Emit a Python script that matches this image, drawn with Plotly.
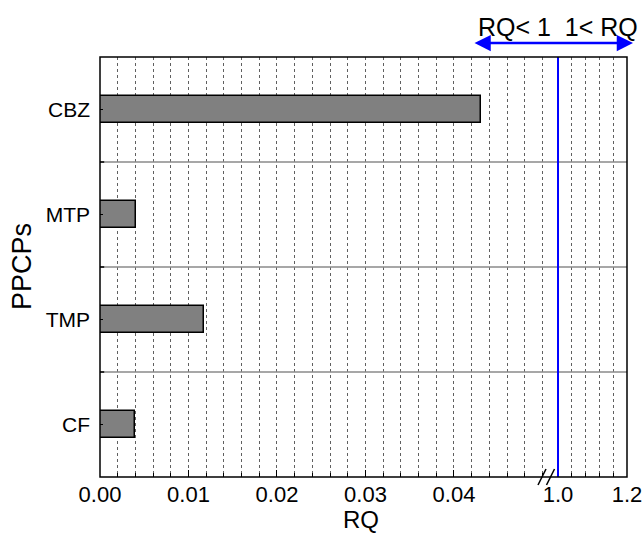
import plotly.graph_objects as go

# ---- data ----
categories = ["CF", "TMP", "MTP", "CBZ"]
rq_values = [0.0040, 0.0117, 0.0041, 0.0430]
threshold = 1.0
left_ticks = [0.00, 0.01, 0.02, 0.03, 0.04]
left_ticktext = ["0.00", "0.01", "0.02", "0.03", "0.04"]
right_ticks = [1.0, 1.2]
right_ticktext = ["1.0", "1.2"]
top_label = "RQ< 1  1< RQ"
x_title = "RQ"
y_title = "PPCPs"

FONT = "Arial, Liberation Sans, Helvetica, sans-serif"

W, H = 644, 534
PL, PR, PT, PB = 100, 627, 57, 477          # plot box in pixels
L, R, T, B = PL, W - PR, PT, H - PB
pw, ph = PR - PL, PB - PT
split_px = 546
split = (split_px - PL) / pw

def px_x(p):
    return (p - PL) / pw

def px_y(p):
    return (PB - p) / ph

fig = go.Figure()
fig.add_trace(go.Bar(
    y=categories, x=rq_values, orientation="h",
    width=0.256,
    marker=dict(color="#808080", line=dict(color="black", width=1.5)),
    xaxis="x", yaxis="y", showlegend=False, hoverinfo="x+y",
))
# invisible anchor trace for the right-hand axis segment
fig.add_trace(go.Scatter(
    x=[threshold], y=[categories[0]], mode="markers",
    marker=dict(opacity=0), xaxis="x2", yaxis="y",
    showlegend=False, hoverinfo="skip",
))

grid = dict(showgrid=True, gridcolor="#606060", griddash="dot", gridwidth=1)

fig.update_layout(
    width=W, height=H,
    margin=dict(l=L, r=R, t=T, b=B),
    plot_bgcolor="white", paper_bgcolor="white",
    font=dict(family=FONT, color="black", size=22),
    bargap=0,
    xaxis=dict(
        domain=[0, split], range=[0, 0.0504], anchor="y", automargin=False,
        tickmode="array", tickvals=left_ticks, ticktext=left_ticktext,
        ticks="inside", ticklen=7, tickwidth=1, tickcolor="black",
        tickfont=dict(size=22), ticklabelstandoff=2,
        showline=False, zeroline=False,
        minor=dict(dtick=0.002, tick0=0, ticks="inside", ticklen=4,
                   tickcolor="black", showgrid=True, gridcolor="#606060",
                   griddash="dot", gridwidth=1),
        **grid,
    ),
    xaxis2=dict(
        domain=[split, 1], range=[0.9652, 1.2], anchor="y", automargin=False,
        tickmode="array", tickvals=right_ticks, ticktext=right_ticktext,
        ticks="inside", ticklen=7, tickwidth=1, tickcolor="black",
        tickfont=dict(size=22), ticklabelstandoff=2,
        showline=False, zeroline=False,
        minor=dict(tickmode="array", tickvals=[1.04, 1.08, 1.12, 1.16],
                   ticks="inside", ticklen=4, tickcolor="black",
                   showgrid=True, gridcolor="#606060", griddash="dot",
                   gridwidth=1),
        **grid,
    ),
    yaxis=dict(
        domain=[0, 1], range=[-0.5, 3.5], automargin=False,
        categoryorder="array", categoryarray=categories,
        ticks="inside", ticklen=3, tickcolor="black",
        tickfont=dict(size=21), ticklabelstandoff=9,
        showgrid=False, showline=False, zeroline=False,
    ),
)

shapes = []
# category separators
for s in [0.5, 1.5, 2.5]:
    shapes.append(dict(type="line", xref="paper", yref="y", x0=0, x1=1,
                       y0=s, y1=s, line=dict(color="#8a8a8a", width=1.5),
                       layer="above"))
    shapes.append(dict(type="line", xref="paper", yref="y", x0=0, x1=0.008,
                       y0=s, y1=s, line=dict(color="black", width=1.5),
                       layer="above"))
# threshold line
shapes.append(dict(type="line", xref="x2", yref="paper", x0=threshold,
                   x1=threshold, y0=0, y1=1,
                   line=dict(color="#0000ff", width=2), layer="above"))
# frame
shapes.append(dict(type="rect", xref="paper", yref="paper", x0=0, x1=1,
                   y0=0, y1=1, line=dict(color="black", width=1.5),
                   layer="above"))
# axis break marks
for dx in [0, 8.5]:
    shapes.append(dict(type="line", xref="paper", yref="paper",
                       x0=px_x(538 + dx), y0=px_y(485),
                       x1=px_x(546 + dx), y1=px_y(469),
                       line=dict(color="black", width=1.5)))
fig.update_layout(shapes=shapes)

annotations = [
    dict(text=top_label, xref="x2", yref="paper", x=threshold,
         y=px_y(27), xanchor="center", yanchor="middle", showarrow=False,
         font=dict(size=25)),
    dict(text="", xref="paper", yref="paper", axref="pixel", ayref="pixel",
         x=px_x(633), y=px_y(43), ax=-(633 - 473), ay=0,
         showarrow=True, arrowside="end+start", arrowhead=2,
         arrowsize=1.3, arrowwidth=2.5, arrowcolor="#0000ff",
         standoff=0, startstandoff=0),
    dict(text=x_title, xref="paper", yref="paper", x=px_x(361),
         y=px_y(519), xanchor="center", yanchor="middle", showarrow=False,
         font=dict(size=24)),
    dict(text=y_title, xref="paper", yref="paper", x=px_x(22),
         y=0.5, xanchor="center", yanchor="middle", showarrow=False,
         textangle=-90, font=dict(size=27)),
]
fig.update_layout(annotations=annotations)

fig.write_html("out.html",
               config={"displayModeBar": False},
               post_script="document.body.style.margin='0';"
                           "document.body.style.overflow='hidden';")
